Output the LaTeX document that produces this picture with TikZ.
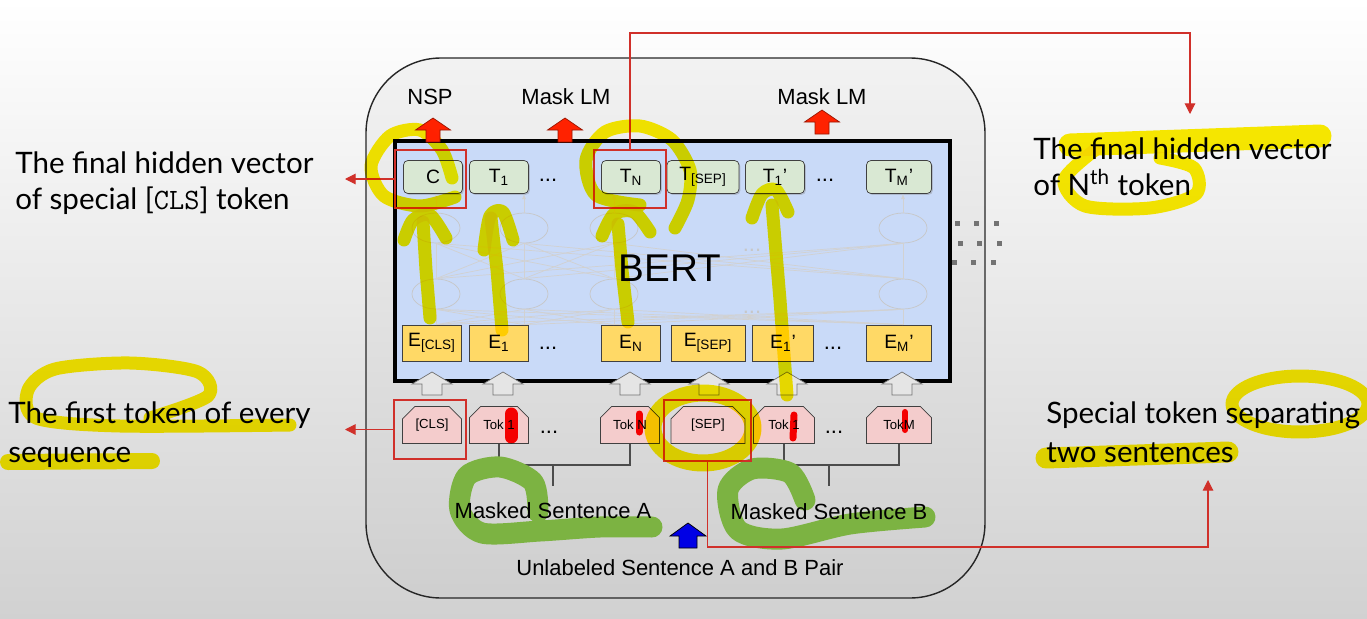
\documentclass[tikz,border=0pt]{standalone}
\usepackage{fontspec}
\setmainfont{Liberation Sans}
\newfontfamily\gillfont{Lato}
\usetikzlibrary{arrows.meta,shapes.misc,shapes.geometric,positioning,calc,shadows}
\definecolor{tgreen}{HTML}{D9E8D3}
\definecolor{eyellow}{HTML}{FFD966}
\definecolor{tokpink}{HTML}{F4CCCC}
\definecolor{bertblue}{HTML}{C9DAF8}
\definecolor{markred}{HTML}{D0302A}
\definecolor{arrred}{HTML}{FF2200}
\definecolor{hlyellow}{HTML}{FFF000}
\definecolor{hlgreen}{HTML}{7CB342}
\tikzset{pics/blockup/.style n args={4}{code={
    \path[pic actions] (-#2,0) -- (-#2,-#4) -- (-#1,-#4) -- (0,-#3) -- (#1,-#4) -- (#2,-#4) -- (#2,0) -- cycle;
}}}

\begin{document}
\begin{tikzpicture}[x=0.02cm,y=-0.02cm,
    every node/.style={inner sep=0pt},
    lbl/.style={font=\fontsize{12.5}{15}\selectfont},
    note/.style={font=\gillfont\fontsize{16.8}{21}\selectfont, align=left, anchor=north west},
    tbox/.style={draw=black!75, fill=tgreen, rounded corners=2.5pt, minimum width=1.18cm, minimum height=0.66cm,
        font=\fontsize{11}{13}\selectfont, drop shadow={shadow xshift=0.8pt, shadow yshift=-0.8pt, opacity=0.35}},
    ebox/.style={draw=black!75, fill=eyellow, minimum width=1.18cm, minimum height=0.72cm, font=\fontsize{11}{13}\selectfont},
    tokbox/.style={chamfered rectangle, chamfered rectangle corners={north west,north east}, chamfered rectangle xsep=4pt,
        draw=black!75, fill=tokpink, minimum width=1.18cm, minimum height=0.74cm, font=\fontsize{7.5}{9}\selectfont},
    grayup/.style={draw=black!55, fill=black!10},
    redup/.style={draw=arrred!60!black, fill=arrred},
    markbox/.style={draw=markred, line width=1.2pt},
    redarr/.style={draw=markred, line width=0.6pt, -{Triangle[width=6pt,length=6pt]}},
    brk/.style={draw=black!70, line width=0.8pt},
    netell/.style={ellipse, draw=black!22, minimum width=0.96cm, minimum height=0.6cm},
    net/.style={draw=black!18, line width=0.4pt},
    hly/.style={draw=hlyellow, line width=0.26cm, line cap=round, line join=round},
    hlg/.style={draw=hlgreen, line width=0.42cm, line cap=round, line join=round},
    inkred/.style={draw=red, line width=0.2cm, line cap=round}]

    % background
    \shade[top color=white, bottom color=black!18] (0,0) rectangle (1367,619);
    \useasboundingbox (0,0) rectangle (1367,619);
    \draw[black!85, line width=0.8pt, top color=black!5, bottom color=black!19, rounded corners=1.5cm] (366,58) rectangle (985,598);
    \draw[line width=1.8pt, fill=bertblue] (395,141) rectangle (950,381);
    \foreach \x/\y in {957/223,960/243,954/262}
        \foreach \c in {0,1,2}
            \fill[black!55] (\x+19.5*\c-2.5,\y-2.5) rectangle ++(5,5);

    % outputs
    \node[tbox] (tc) at (433,177) {C};
    \node[tbox] (t1) at (499,177) {T\textsubscript{1}};
    \node[lbl] (tdots1) at (548,180) {...};
    \node[tbox] (tn) at (631,177) {T\textsubscript{N}};
    \node[tbox, minimum width=1.44cm] (tsep) at (703,177) {T\textsubscript{[SEP]}};
    \node[tbox] (t1p) at (775,177) {T\textsubscript{1}'};
    \node[lbl] (tdots2) at (825,180) {...};
    \node[tbox, minimum width=1.3cm] (tmp) at (899,177) {T\textsubscript{M}'};

    % embeddings
    \node[ebox] (ecls) at (432,343) {E\textsubscript{[CLS]}};
    \node[ebox] (e1) at (499,343) {E\textsubscript{1}};
    \node[lbl] (edots1) at (548,348) {...};
    \node[ebox] (en) at (631,343) {E\textsubscript{N}};
    \node[ebox, minimum width=1.48cm] (esep) at (708,343) {E\textsubscript{[SEP]}};
    \node[ebox, minimum width=1.22cm] (e1p) at (783,343) {E\textsubscript{1}'};
    \node[lbl] (edots2) at (833,348) {...};
    \node[ebox, minimum width=1.3cm] (emp) at (899,343) {E\textsubscript{M}'};

    % faint transformer layers
    \foreach \x [count=\i] in {436,524,614,903} {
        \node[netell] (hb\i) at (\x,294) {};
        \node[netell] (ht\i) at (\x,228) {};
    }
    \foreach \i in {1,...,4} {
        \foreach \j in {1,...,4} {
            \draw[net] (hb\i.south |- ecls.north) -- (hb\j.south);
            \draw[net] (hb\i.north) -- (ht\j.south);
        }
        \draw[net, -{Latex[length=3pt]}] (ht\i.north) -- (ht\i.north |- tc.south);
    }
    \node[lbl, text=black!22] (ldots1) at (752,250) {...};
    \node[lbl, text=black!22] (ldots2) at (752,312) {...};
    \node[font=\fontsize{22}{26}\selectfont] (bert) at (670,268) {BERT};

    % input tokens
    \node[tokbox] (kcls) at (432,425) {[CLS]};
    \node[tokbox] (k1) at (499,425) {Tok 1};
    \node[lbl] (kdots1) at (549,432) {...};
    \node[tokbox] (kn) at (630,425) {Tok N};
    \node[tokbox, minimum width=1.48cm] (ksep) at (708,425) {[SEP]};
    \node[tokbox, minimum width=1.22cm] (k1p) at (784,425) {Tok 1};
    \node[lbl] (kdots2) at (834,432) {...};
    \node[tokbox, minimum width=1.3cm] (km) at (899,425) {TokM};

    \foreach \x [count=\i] in {432,503,630,709,787,902}
        \pic[grayup] (up\i) at (\x,395) {blockup={20}{10}{23}{11}};

    % heads
    \node[lbl] (nsp) at (430,97) {NSP};
    \node[lbl] (mlm1) at (566,97) {Mask LM};
    \node[lbl] (mlm2) at (822,97) {Mask LM};
    \pic[redup] (nsparr) at (433,142) {blockup={17.5}{7}{24}{12}};
    \pic[redup] (mlmarr1) at (565,142) {blockup={17.5}{7}{24}{12}};
    \pic[redup] (mlmarr2) at (822,134) {blockup={17.5}{7}{24}{12}};

    % sentences
    \draw[brk] (k1.south) -- (k1.south |- 0,465) -| (kn.south);
    \draw[brk] (k1p.south) -- (k1p.south |- 0,465) -| (km.south);
    \coordinate (stemA) at (553,465);
    \coordinate (stemAend) at (553,486);
    \coordinate (stemB) at (829,465);
    \coordinate (stemBend) at (829,486);
    \draw[brk] (stemA) -- (stemAend);
    \draw[brk] (stemB) -- (stemBend);
    \draw[hlg] plot[smooth] coordinates {(538,512) (533,482) (500,467) (467,476) (460,510) (482,533) (540,531) (600,527) (652,527)};
    \draw[hlg] plot[smooth] coordinates {(805,500) (790,473) (752,469) (728,490) (738,530) (782,539) (850,524) (925,517)};
    \node[lbl] (sentA) at (553,511) {Masked Sentence A};
    \node[lbl] (sentB) at (829,512) {Masked Sentence B};
    \pic[draw=black, fill=blue!90!black] (pairarr) at (688,548) {blockup={18}{9}{25}{12}};
    \node[lbl] (pair) at (680,568) {Unlabeled Sentence A and B Pair};

    % annotations
    \node[markbox, minimum width=1.42cm, minimum height=1.16cm] (cmark) at (430.5,179) {};
    \node[markbox, minimum width=1.44cm, minimum height=1.16cm] (nmark) at (630,179) {};
    \node[markbox, minimum width=1.44cm, minimum height=1.18cm] (kmark) at (430,429.5) {};
    \node[markbox, minimum width=1.74cm, minimum height=1.22cm] (sepmark) at (707.5,430.5) {};

    \node[note] (clsnote) at (15,151) {The final hidden vector\\of special [{\ttfamily CLS}] token};
    \node[note, font=\gillfont\fontsize{16.8}{22.5}\selectfont] (firstnote) at (8,401) {The first token of every\\sequence};
    \node[note] (nthnote) at (1033,137) {The final hidden vector\\of N\textsuperscript{th} token};
    \node[note, font=\gillfont\fontsize{16.8}{22.5}\selectfont] (sepnote) at (1046,401) {Special token separating\\two sentences};

    \coordinate (clsend) at (345,179);
    \coordinate (firstend) at (345,429.5);
    \coordinate (nthend) at (1190,114);
    \coordinate (sepend) at (1208,480);
    \draw[redarr] (cmark.west) -- (clsend);
    \draw[redarr] (kmark.west) -- (firstend);
    \draw[redarr] (nmark.north) -- (nmark.north |- 0,33) -| (nthend);
    \draw[redarr] (sepmark.south) -- (sepmark.south |- 0,547) -| (sepend);

    % highlighter
    \begin{scope}[blend mode=multiply]
        \draw[hly] plot[smooth] coordinates {(455,197) (420,206) (384,196) (371,166) (390,136) (420,130) (442,150) (452,178)};
        \draw[hly] (430,318) -- (426,270) -- (423,222);
        \draw[hly] plot[smooth] coordinates {(404,240) (413,220) (430,215) (446,238)};
        \draw[hly] (502,330) -- (497,270) -- (491,218);
        \draw[hly] plot[smooth] coordinates {(484,250) (490,216) (503,212) (513,240)};
        \draw[hly] (628,322) -- (622,270) -- (618,224);
        \draw[hly] plot[smooth] coordinates {(602,236) (614,214) (634,212) (650,232)};
        \draw[hly] plot[smooth] coordinates {(640,205) (596,195) (586,160) (605,132) (640,126) (672,140) (690,170) (688,200) (675,228)};
        \draw[hly] (787,395) -- (780,300) -- (772,205);
        \draw[hly] plot[smooth] coordinates {(752,218) (762,194) (776,190) (788,212)};
        \draw[hly, line width=0.34cm] (703,428) ellipse (1.0cm and 0.7cm);
        \draw[hly] plot[smooth] coordinates {(150,418) (208,396) (198,372) (130,363) (55,369) (28,390) (36,418) (120,426) (290,425)};
        \draw[hly, line width=0.32cm] (8,462) -- (152,461);
        \draw[hly, line width=0.46cm] (1070,145) -- (1320,136);
        \draw[hly] plot[smooth] coordinates {(1095,150) (1064,180) (1085,206) (1150,208) (1196,194) (1194,168) (1160,158)};
        \draw[hly] (1300,404) ellipse (1.36cm and 0.56cm);
        \draw[hly, line width=0.42cm] (1046,458) -- (1228,452);
        \draw[inkred, line width=0.26cm] (511,414) -- (511,437);
        \draw[inkred, line width=0.14cm] (639,414) -- (639,432);
        \draw[inkred, line width=0.14cm] (794,415) -- (793,438);
        \draw[inkred, line width=0.12cm] (905,412) -- (905,430);
    \end{scope}
\end{tikzpicture}
\end{document}
